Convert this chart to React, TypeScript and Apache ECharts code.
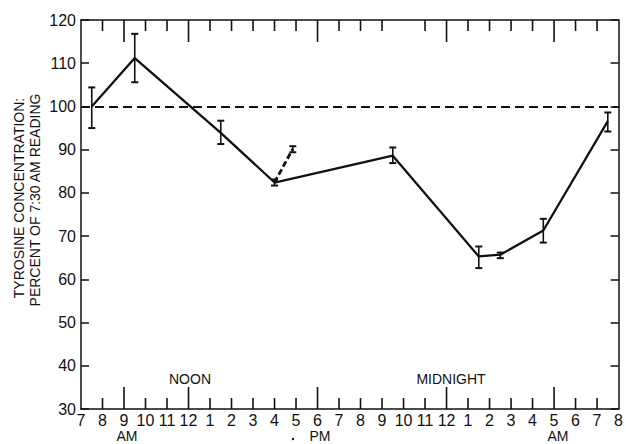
import React, { useEffect, useRef } from "react";
import * as echarts from "echarts";

// hours after midnight of day 1 (7 = 7 AM, 24 = midnight, 31.5 = 7:30 AM next day)
const hours = [7.5, 9.5, 13.5, 16, 21.5, 25.5, 26.5, 28.5, 31.5];
const values = [100, 111.2, 93.9, 82.4, 88.6, 65.3, 65.7, 71.3, 96.6];
const errLow = [95.0, 105.6, 91.3, 81.7, 86.9, 62.6, 64.9, 68.5, 94.2];
const errHigh = [104.4, 116.8, 96.7, 83.1, 90.5, 67.6, 66.2, 74.0, 98.6];

const branchHours = [16, 16.85];
const branchValues = [82.4, 90.2];
const branchLow = 89.4;
const branchHigh = 90.8;

const referenceValue = 100;

const bottomTickHours = [8, 9, 10, 11, 12, 13, 14, 15, 16, 17, 18, 19, 20, 21, 22, 23, 24, 25, 26, 27, 28, 29, 30, 31];
const topTickHours = [8, 9, 10, 11, 12, 13, 14, 15, 16, 17, 18, 19, 20, 21, 23, 24, 25, 26, 27, 28, 29, 30, 31];
const longTickHours = [9, 12, 18, 24, 29];

const FONT = "Liberation Sans, Arial, sans-serif";
const INK = "#111";

export default function App() {
  const ref = useRef<HTMLDivElement>(null);
  useEffect(() => {
    document.body.style.margin = "0";
    const chart = echarts.init(ref.current!, null, { renderer: "svg" });

    const errData = hours.map((h, i) => [h, errLow[i], errHigh[i]]);
    errData.push([branchHours[1], branchLow, branchHigh]);

    const tickData: number[][] = [];
    bottomTickHours.forEach((h) => tickData.push([h, longTickHours.includes(h) ? 1 : 0, 0]));
    topTickHours.forEach((h) => tickData.push([h, longTickHours.includes(h) ? 1 : 0, 1]));

    const option: any = {
      animation: false,
      backgroundColor: "#fff",
      grid: { left: 81, right: 6, top: 20, bottom: 35 },
      xAxis: [
        {
          type: "value",
          position: "bottom",
          min: 7,
          max: 32,
          interval: 1,
          axisLine: { lineStyle: { color: INK, width: 1.5 } },
          axisTick: { show: false },
          splitLine: { show: false },
          axisLabel: {
            color: INK,
            fontFamily: FONT,
            fontSize: 16,
            margin: 3,
            formatter: (v: number) => String(((v - 1) % 12) + 1),
          },
        },
        {
          type: "value",
          position: "top",
          min: 7,
          max: 32,
          interval: 1,
          axisLine: { lineStyle: { color: INK, width: 1.5 } },
          axisTick: { show: false },
          splitLine: { show: false },
          axisLabel: { show: false },
        },
      ],
      yAxis: [
        {
          type: "value",
          position: "left",
          min: 30,
          max: 120,
          interval: 10,
          axisLine: { show: true, lineStyle: { color: INK, width: 1.5 } },
          axisTick: { show: true, inside: true, length: 8, lineStyle: { color: INK, width: 1.5 } },
          splitLine: { show: false },
          axisLabel: { color: INK, fontFamily: FONT, fontSize: 16, margin: 5 },
        },
        {
          type: "value",
          position: "right",
          min: 30,
          max: 120,
          interval: 10,
          axisLine: { show: true, lineStyle: { color: INK, width: 1.5 } },
          axisTick: { show: true, inside: true, length: 8, lineStyle: { color: INK, width: 1.5 } },
          splitLine: { show: false },
          axisLabel: { show: false },
        },
      ],
      series: [
        {
          type: "line",
          data: hours.map((h, i) => [h, values[i]]),
          symbol: "none",
          lineStyle: { color: INK, width: 2.3 },
          z: 3,
          markLine: {
            silent: true,
            symbol: "none",
            label: { show: false },
            lineStyle: { color: INK, width: 2, type: [9, 5] },
            data: [{ yAxis: referenceValue }],
          },
        },
        {
          type: "line",
          data: branchHours.map((h, i) => [h, branchValues[i]]),
          symbol: "none",
          lineStyle: { color: INK, width: 2.8, type: [6, 3] },
          z: 3,
        },
        {
          type: "custom",
          data: errData,
          z: 4,
          renderItem: (params: any, api: any) => {
            const x = api.value(0);
            const lo = api.coord([x, api.value(1)]);
            const hi = api.coord([x, api.value(2)]);
            const w = 3.5;
            const st = { stroke: INK, lineWidth: 1.6 };
            return {
              type: "group",
              children: [
                { type: "line", shape: { x1: lo[0], y1: lo[1], x2: hi[0], y2: hi[1] }, style: st },
                { type: "line", shape: { x1: lo[0] - w, y1: lo[1], x2: lo[0] + w, y2: lo[1] }, style: { ...st, lineWidth: 2 } },
                { type: "line", shape: { x1: hi[0] - w, y1: hi[1], x2: hi[0] + w, y2: hi[1] }, style: { ...st, lineWidth: 2 } },
              ],
            };
          },
        },
        {
          type: "custom",
          data: tickData,
          z: 2,
          renderItem: (params: any, api: any) => {
            const h = api.value(0);
            const isLong = api.value(1) === 1;
            const top = api.value(2) === 1;
            const len = isLong ? 22 : 11;
            const p = api.coord([h, top ? 120 : 30]);
            const y2 = top ? p[1] + len : p[1] - len;
            return {
              type: "line",
              shape: { x1: p[0], y1: p[1], x2: p[0], y2 },
              style: { stroke: INK, lineWidth: 1.6 },
            };
          },
        },
      ],
      graphic: [
        {
          type: "text",
          x: 19,
          y: 198,
          rotation: Math.PI / 2,
          style: {
            text: "TYROSINE CONCENTRATION:",
            fill: INK,
            font: `14px ${FONT}`,
            align: "center",
            verticalAlign: "middle",
          },
        },
        {
          type: "text",
          x: 35,
          y: 200,
          rotation: Math.PI / 2,
          style: {
            text: "PERCENT OF 7:30 AM READING",
            fill: INK,
            font: `14px ${FONT}`,
            align: "center",
            verticalAlign: "middle",
          },
        },
        { type: "text", x: 190, y: 379, style: { text: "NOON", fill: INK, font: `14px ${FONT}`, align: "center", verticalAlign: "middle" } },
        { type: "text", x: 451, y: 379, style: { text: "MIDNIGHT", fill: INK, font: `14px ${FONT}`, align: "center", verticalAlign: "middle" } },
        { type: "text", x: 127, y: 436, style: { text: "AM", fill: INK, font: `14px ${FONT}`, align: "center", verticalAlign: "middle" } },
        { type: "circle", shape: { cx: 293, cy: 439, r: 1.2 }, style: { fill: INK } },
        { type: "text", x: 320, y: 436, style: { text: "PM", fill: INK, font: `14px ${FONT}`, align: "center", verticalAlign: "middle" } },
        { type: "text", x: 558, y: 436, style: { text: "AM", fill: INK, font: `14px ${FONT}`, align: "center", verticalAlign: "middle" } },
      ],
    };
    chart.setOption(option);
    return () => chart.dispose();
  }, []);
  return <div ref={ref} style={{ width: 626, height: 444 }} />;
}
